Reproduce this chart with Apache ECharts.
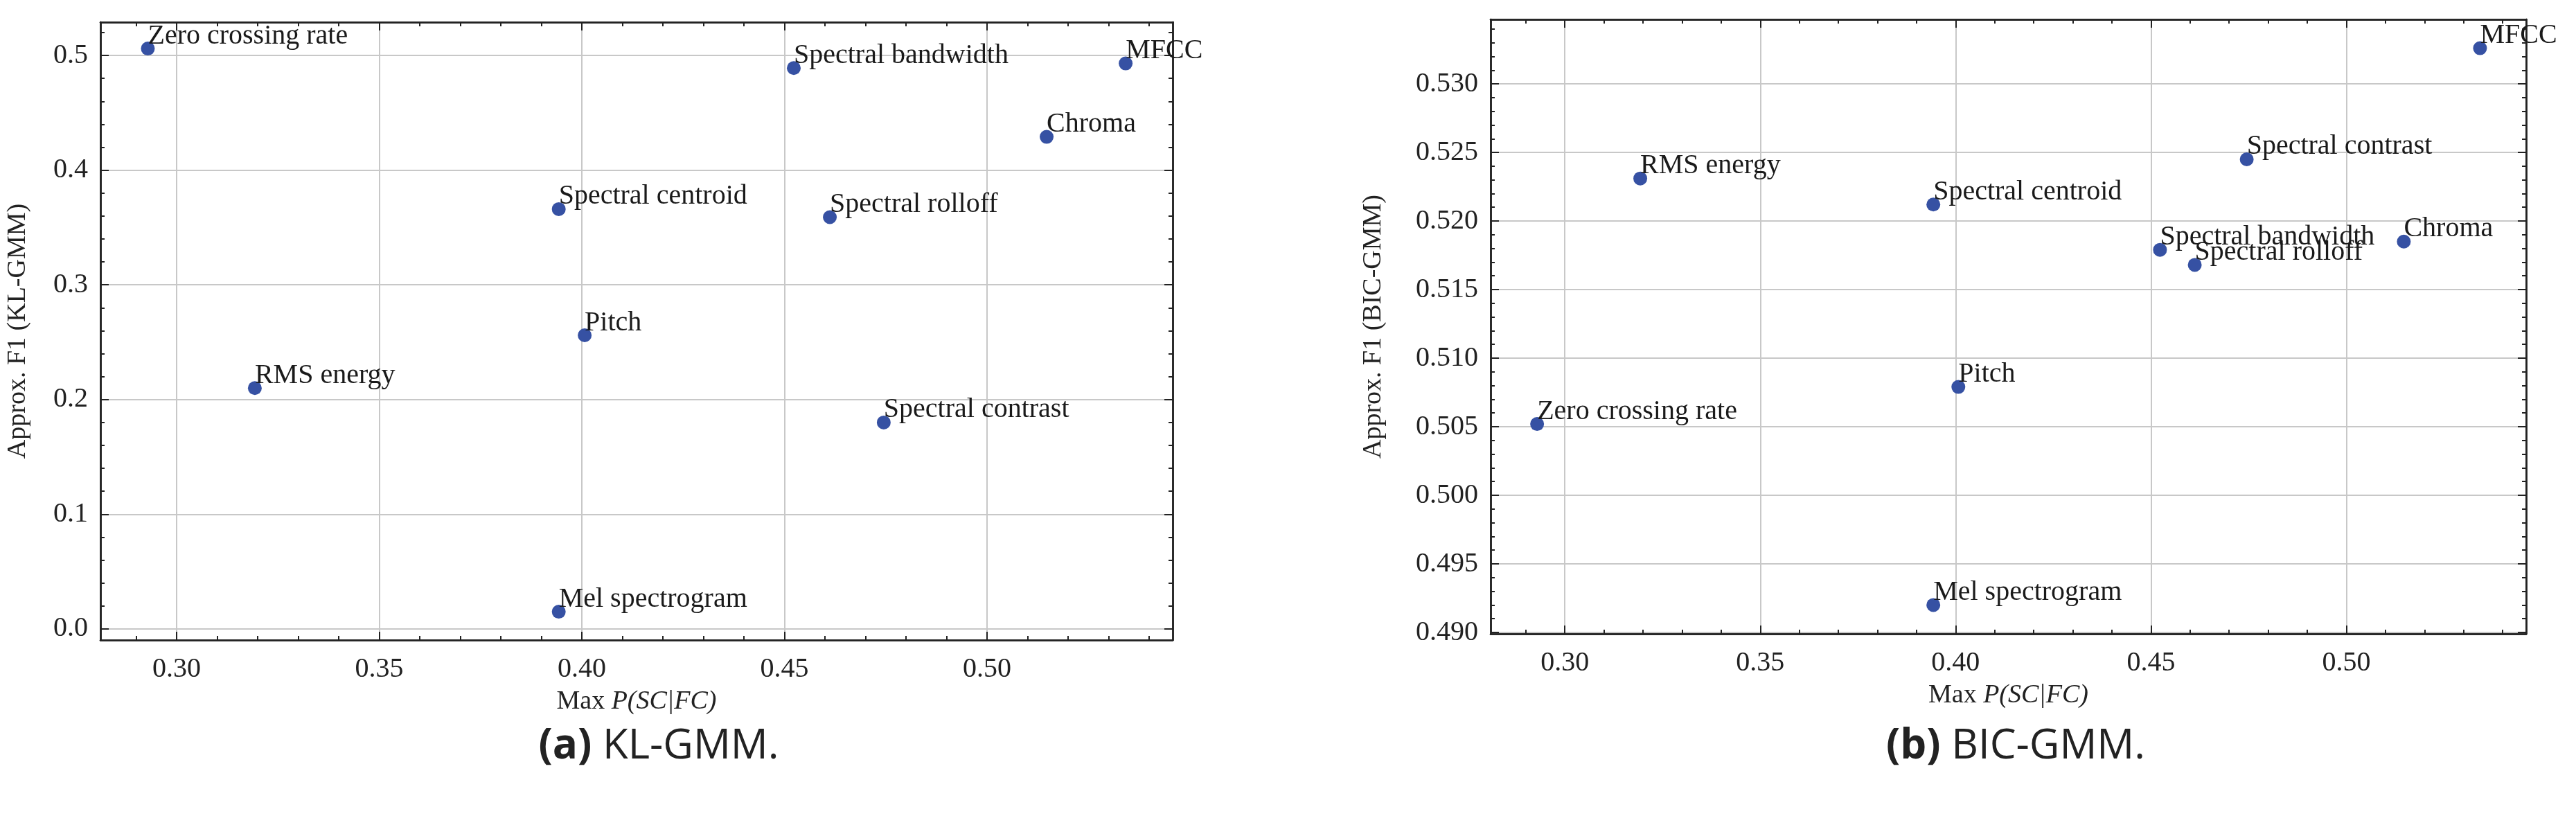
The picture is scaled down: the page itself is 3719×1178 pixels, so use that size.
<!DOCTYPE html>
<html><head><meta charset="utf-8">
<script src="https://cdn.jsdelivr.net/npm/echarts@6/dist/echarts.min.js"></script>
<style>html,body{margin:0;padding:0;background:#fff}#c{width:3719px;height:1178px}</style>
</head><body><div id="c"></div>
<script>
const features = ["Zero crossing rate","Spectral bandwidth","MFCC","Chroma","Spectral centroid","Spectral rolloff","Pitch","RMS energy","Spectral contrast","Mel spectrogram"];
const maxP = [0.2929,0.4523,0.5342,0.5147,0.3943,0.4612,0.4007,0.3193,0.4745,0.3943];
const f1KL = [0.506,0.489,0.493,0.429,0.366,0.359,0.256,0.210,0.180,0.015];
const f1BIC = [0.5052,0.5179,0.5326,0.5185,0.5212,0.5168,0.5079,0.5231,0.5245,0.4920];
const xTicks = [0.30,0.35,0.40,0.45,0.50];
const yTicksKL = [0.0,0.1,0.2,0.3,0.4,0.5];
const yTicksBIC = [0.490,0.495,0.500,0.505,0.510,0.515,0.520,0.525,0.530];

function range(a,b,s){const r=[];for(let v=a;v<=b+1e-9;v+=s)r.push(+v.toFixed(5));return r;}
const F='"Liberation Serif", "DejaVu Serif", serif';
const grid=[
 {left:145,right:2026,top:32,bottom:254},
 {left:2152,right:72,top:28,bottom:263}];
const xr=[[0.2812,0.5458],[0.281,0.546]];
const yr=[[-0.0097,0.529],[0.4899,0.5347]];
const yt=[yTicksKL,yTicksBIC];
const yMinor=[range(0,0.52,0.02),range(0.490,0.534,0.001)];
const xMinor=range(0.29,0.54,0.01);
const yDec=[1,3];
const yName=['Approx. F1 (KL-GMM)','Approx. F1 (BIC-GMM)'];
const xAxis=[],yAxis=[],series=[];
const lineS={lineStyle:{color:'#222',width:2.5}};
const tk={color:'#222',width:2};
for(let g=0;g<2;g++){
 const base={gridIndex:g,type:'value',min:xr[g][0],max:xr[g][1],axisLine:{show:true,onZero:false,...lineS}};
 xAxis.push({...base,position:'bottom',
   name:'Max {i|P(SC|FC)}',nameLocation:'middle',nameGap:70,
   nameTextStyle:{fontFamily:F,fontSize:38,color:'#222',rich:{i:{fontFamily:F,fontStyle:'italic',fontSize:38,color:'#222'}}},
   axisLabel:{customValues:xTicks,formatter:v=>v.toFixed(2),fontFamily:F,fontSize:40,color:'#222',margin:22},
   axisTick:{customValues:xTicks,inside:true,length:12,lineStyle:tk},
   splitLine:{show:true,lineStyle:{color:'#c8c8c8',width:2}}});
 xAxis.push({...base,position:'bottom',axisLabel:{show:false},axisTick:{customValues:xMinor,inside:true,length:6,lineStyle:tk},splitLine:{show:false}});
 xAxis.push({...base,position:'top',axisLabel:{show:false},axisTick:{customValues:xMinor,inside:true,length:6,lineStyle:tk},splitLine:{show:false}});
 xAxis.push({...base,position:'top',axisLabel:{show:false},axisTick:{customValues:xTicks,inside:true,length:12,lineStyle:tk},splitLine:{show:false}});
 const yb={gridIndex:g,type:'value',min:yr[g][0],max:yr[g][1],axisLine:{show:true,onZero:false,...lineS}};
 yAxis.push({...yb,position:'left',name:yName[g],nameLocation:'middle',nameGap:g?150:100,
   nameTextStyle:{fontFamily:F,fontSize:38,color:'#222'},
   axisLabel:{customValues:yt[g],formatter:v=>v.toFixed(yDec[g]),fontFamily:F,fontSize:40,color:'#222',margin:18},
   axisTick:{customValues:yt[g],inside:true,length:12,lineStyle:tk},
   splitLine:{show:true,lineStyle:{color:'#c8c8c8',width:2}}});
 yAxis.push({...yb,position:'left',axisLabel:{show:false},axisTick:{customValues:yMinor[g],inside:true,length:6,lineStyle:tk},splitLine:{show:false}});
 yAxis.push({...yb,position:'right',axisLabel:{show:false},axisTick:{customValues:yMinor[g],inside:true,length:6,lineStyle:tk},splitLine:{show:false}});
 yAxis.push({...yb,position:'right',axisLabel:{show:false},axisTick:{customValues:yt[g],inside:true,length:12,lineStyle:tk},splitLine:{show:false}});
 const ys=g?f1BIC:f1KL;
 series.push({type:'scatter',xAxisIndex:g*4,yAxisIndex:g*4,symbolSize:20,
   itemStyle:{color:'#3651a3',opacity:1},
   data:features.map((n,i)=>({name:n,value:[maxP[i],ys[i]]})),
   label:{show:true,formatter:p=>p.name,position:[10,-28],align:'left',verticalAlign:'top',
     fontFamily:F,fontSize:40,color:'#1a1a1a'},
   emphasis:{disabled:true},z:5});
}
const chart=echarts.init(document.getElementById('c'));
const cap=(x,a,t)=>({type:'text',x:x,y:1078,style:{text:'{b|'+a+'} '+t,rich:{b:{fontWeight:'bold',fontFamily:'Open Sans',fontSize:60,fill:'#222'}},fontFamily:'Open Sans',fontSize:60,fill:'#222',align:'center',verticalAlign:'middle'}});
chart.setOption({animation:false,backgroundColor:'#fff',grid,xAxis,yAxis,series,
 graphic:[cap(951,'(a)','KL-GMM.'),cap(2910,'(b)','BIC-GMM.')]});
</script></body></html>
